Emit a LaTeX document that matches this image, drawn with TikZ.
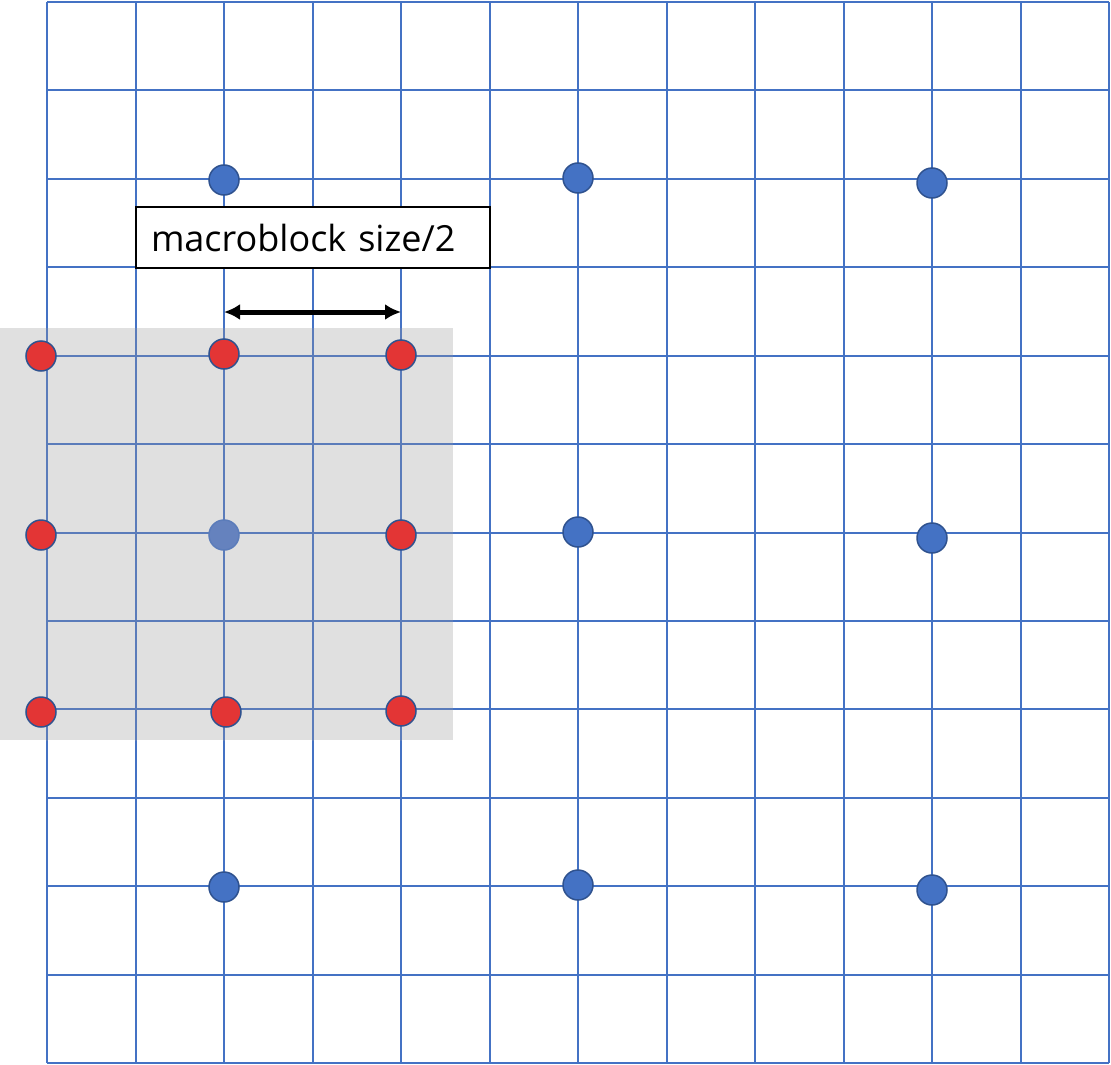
\documentclass[tikz,border=0pt]{standalone}
\usepackage{fontspec}
\setmainfont{Open Sans}
\usetikzlibrary{arrows.meta}
\definecolor{gridblue}{RGB}{68,114,196}
\definecolor{gridmuted}{RGB}{91,124,186}
\definecolor{dotblue}{RGB}{68,114,196}
\definecolor{dotmuted}{RGB}{101,130,190}
\definecolor{dotedge}{RGB}{47,82,143}
\definecolor{dotred}{RGB}{227,53,53}
\definecolor{graybg}{RGB}{224,224,224}
\tikzset{
  gridline/.style={draw=gridblue, line width=2pt},
  mutedline/.style={draw=gridmuted, line width=2pt},
  bluedot/.style={circle, fill=dotblue, draw=dotedge, line width=1.5pt, minimum size=30pt, inner sep=0pt},
  muteddot/.style={circle, fill=dotmuted, draw=gridmuted, line width=1.5pt, minimum size=30pt, inner sep=0pt},
  reddot/.style={circle, fill=dotred, draw=dotedge, line width=1.5pt, minimum size=30pt, inner sep=0pt},
  labelbox/.style={draw=black, fill=white, line width=2pt, minimum width=354pt, minimum height=61pt, text width=324pt, inner xsep=15pt, align=left, font=\fontsize{36pt}{42pt}\selectfont},
  dimarrow/.style={{Latex[length=16pt,width=16pt]}-{Latex[length=16pt,width=16pt]}, line width=5pt, black}
}
\begin{document}
\begin{tikzpicture}[x=1pt,y=-1pt]
\useasboundingbox (0,0) rectangle (1111,1065);
% grid
\foreach \i in {0,...,12} {
  \draw[gridline] ({47+88.5*\i},2) -- ({47+88.5*\i},1063);
  \draw[gridline] (47,{2+88.42*\i}) -- (1109,{2+88.42*\i});
}
% blue dots
\node[bluedot] (b1) at (224,180) {};
\node[bluedot] (b2) at (578,178) {};
\node[bluedot] (b3) at (932,183) {};
\node[bluedot] (b4) at (578,532) {};
\node[bluedot] (b5) at (932,538) {};
\node[bluedot] (b6) at (224,887) {};
\node[bluedot] (b7) at (578,885) {};
\node[bluedot] (b8) at (932,890) {};
% shaded region with muted grid
\fill[graybg] (0,328) rectangle (453,740);
\begin{scope}
  \clip (0,328) rectangle (453,740);
  \foreach \i in {0,...,12} {
    \draw[mutedline] ({47+88.5*\i},2) -- ({47+88.5*\i},1063);
    \draw[mutedline] (47,{2+88.42*\i}) -- (1109,{2+88.42*\i});
  }
\end{scope}
\node[muteddot] (c) at (224,535) {};
% red dots
\node[reddot] (r1) at (41,356) {};
\node[reddot] (r2) at (224,354) {};
\node[reddot] (r3) at (401,355) {};
\node[reddot] (r4) at (41,535) {};
\node[reddot] (r5) at (401,535) {};
\node[reddot] (r6) at (41,712) {};
\node[reddot] (r7) at (226,712) {};
\node[reddot] (r8) at (401,711) {};
% label
\node[labelbox] (lbl) at (313,237.5) {macroblock size/2};
% dimension arrow
\coordinate (aL) at (224,312);
\coordinate (aR) at (401,312);
\draw[dimarrow] (aL) -- (aR);
\end{tikzpicture}
\end{document}
